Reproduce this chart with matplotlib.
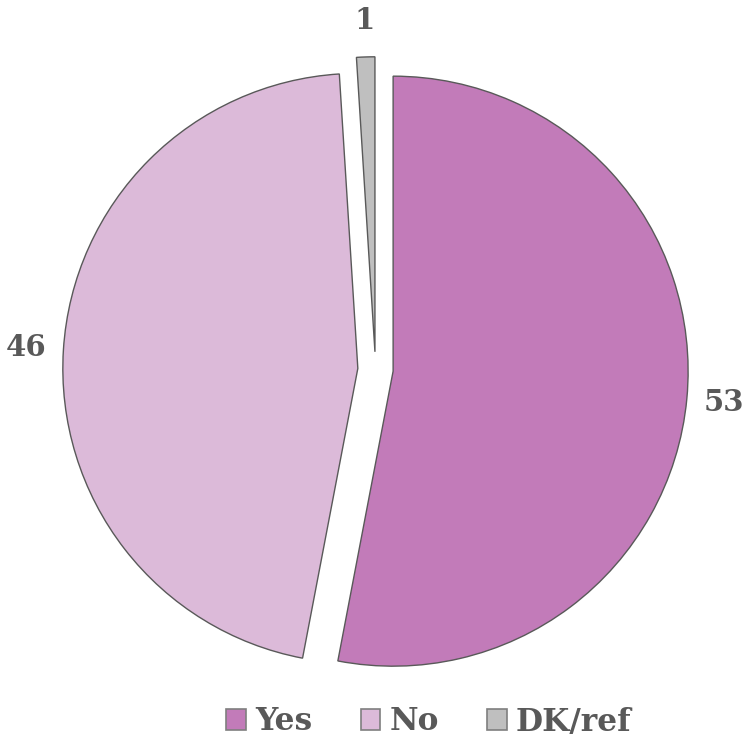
import matplotlib
matplotlib.use("Agg")
import matplotlib.pyplot as plt
from matplotlib.patches import Patch

categories = ["Yes", "No", "DK/ref"]
values = [53, 46, 1]
colors = ["#C27BB9", "#DCBAD9", "#BFBFBF"]

W, H = 745, 738
fig = plt.figure(figsize=(W / 100, H / 100), dpi=100)
ax = fig.add_axes([0, 0, 1, 1])
R = 295.0
cx, cy = 375.5, 369.5
ax.set_aspect("equal")
ax.axis("off")

wedges, texts, autotexts = ax.pie(
    values, colors=colors, startangle=90, counterclock=False,
    explode=[0.06] * 3, radius=1.0,
    autopct=lambda p: f"{round(p * sum(values) / 100):.0f}",
    pctdistance=1.125,
    wedgeprops=dict(edgecolor="#595959", linewidth=1.0),
    textprops=dict(fontsize=21, fontweight="bold", family="DejaVu Serif", color="#595959"),
)
ax.set_xlim(-cx / R, (W - cx) / R)
ax.set_ylim(-(H - cy) / R, cy / R)

handles = [Patch(facecolor=c, edgecolor="#7F7F7F", linewidth=1.2) for c in colors]
leg = fig.legend(handles, categories, loc="center", bbox_to_anchor=(429 / W, 1 - 722 / H),
                 ncol=3, frameon=False, handlelength=0.62, handleheight=0.62,
                 handletextpad=0.3, columnspacing=1.55,
                 prop=dict(size=22.5, weight="bold", family="DejaVu Serif"))
for t in leg.get_texts():
    t.set_color("#595959")

fig.savefig("out.png", dpi=100)
